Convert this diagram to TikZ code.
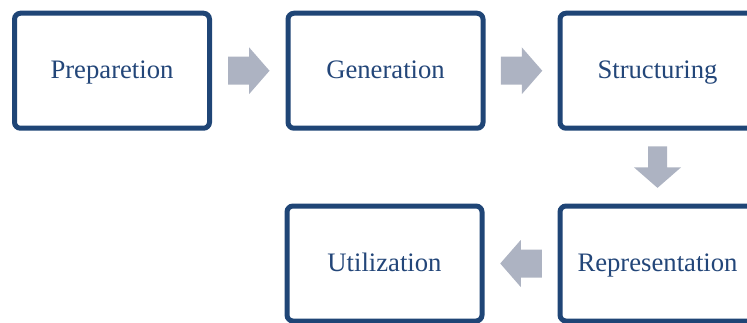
\documentclass[tikz,border=0pt]{standalone}
\usepackage{fontspec}
\setmainfont{Liberation Serif}
\usetikzlibrary{calc}

\definecolor{boxblue}{HTML}{1F4576}
\definecolor{textblue}{HTML}{234679}
\definecolor{arrowgray}{HTML}{ADB3C2}

\tikzset{
  stagebox/.style={draw=boxblue, line width=3.75pt, rounded corners=4.5pt,
    minimum width=146.25pt, minimum height=86.25pt, inner sep=0pt, fill=white,
    text height=14.5pt, text depth=2.5pt,
    text=textblue, font=\fontsize{20}{24}\selectfont},
  % block arrow centred on the pic origin, pointing along +x; #1 = half shaft width
  blockarrow/.pic={
    \fill[arrowgray] (-20.75,-#1) -- (0.25,-#1) -- (0.25,-23.5) -- (20.75,0)
      -- (0.25,23.5) -- (0.25,#1) -- (-20.75,#1) -- cycle;
  }
}

\begin{document}
\begin{tikzpicture}[x=0.75pt, y=0.75pt]
  \useasboundingbox (0,0) rectangle (747,322);
  \clip (0,0) rectangle (747,322);

  % process stages
  \node[stagebox] (prep) at (112,251.25)   {Preparetion};
  \node[stagebox] (gen)  at (385.5,251.25) {Generation};
  \node[stagebox] (str)  at (657.5,251.25) {Structuring};
  \node[stagebox] (rep)  at (657.5,58.5)   {Representation};
  \node[stagebox] (util) at (384.5,58.5)   {Utilization};

  % flow arrows between stages
  \path ($(prep.east)!0.5!(gen.west)$) pic {blockarrow=14};
  \path ($(gen.east)!0.5!(str.west)$) pic {blockarrow=14};
  \path ($(str.south)!0.5!(rep.north)$) pic[rotate=-90] {blockarrow=9.5};
  \path ($(rep.west)!0.5!(util.east)$) pic[rotate=180] {blockarrow=14};
\end{tikzpicture}
\end{document}
